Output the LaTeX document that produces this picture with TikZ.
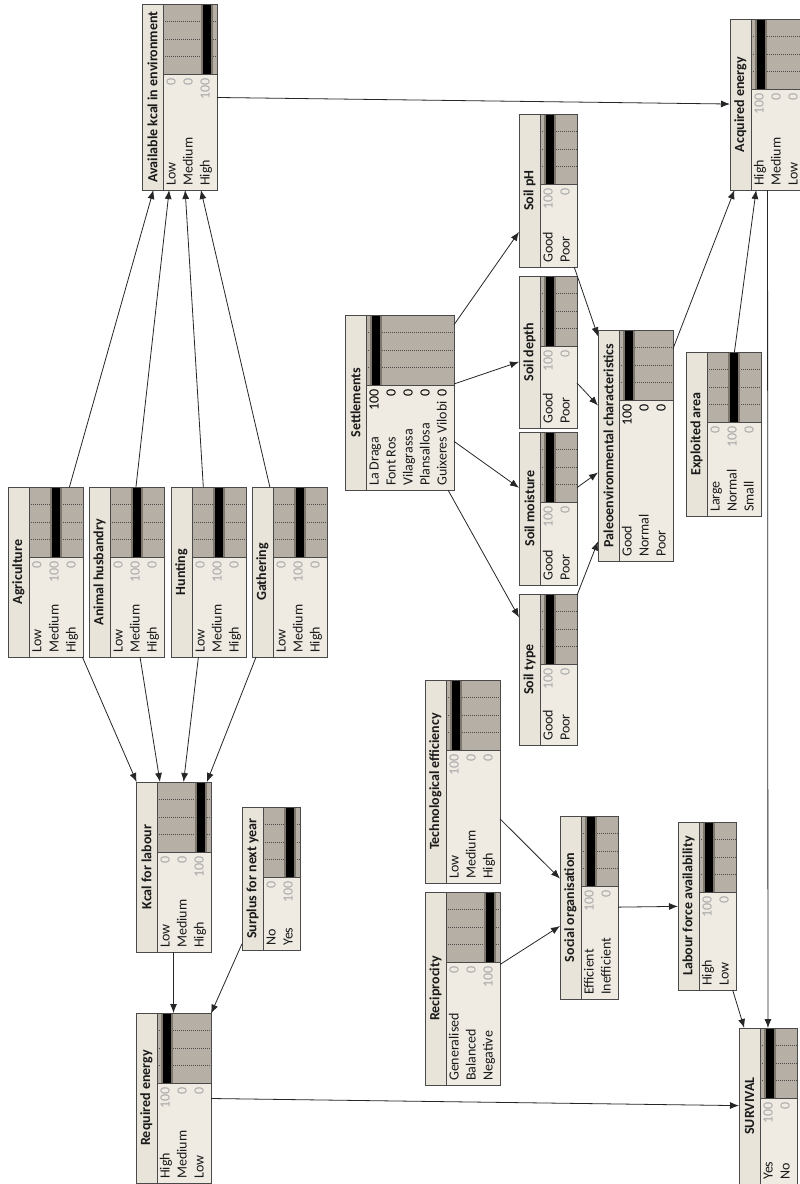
\documentclass[tikz,border=0pt]{standalone}
\usepackage{fontspec}
\setmainfont{Carlito}
\usetikzlibrary{arrows.meta}

\definecolor{bntitlefill}{HTML}{E8E4D9}
\definecolor{bnlabelfill}{HTML}{EFEBE3}
\definecolor{bnchartfill}{HTML}{B6AFA5}
\definecolor{bnedge}{HTML}{4A4A4A}
\definecolor{bnbarband}{HTML}{7E776E}
\definecolor{bnvalgrey}{HTML}{A8A8A8}

\tikzset{
  bnframe/.style={draw=bnedge, line width=0.9pt, fill=bntitlefill, inner sep=0pt, outer sep=0pt, rectangle},
  bnline/.style={draw=bnedge, line width=0.9pt},
  bngrid/.style={draw=black!70, line width=0.6pt, dash pattern=on 1pt off 1pt},
  bntitle/.style={font=\bfseries\fontsize{14}{17}\selectfont, text=black!90, inner sep=0pt},
  bnlabel/.style={font=\fontsize{14}{17}\selectfont, text=black!90, inner sep=0pt, text height=0.7em, text depth=0.2em},
  bnvalue/.style={font=\fontsize{14}{17}\selectfont, inner sep=0pt, text height=0.7em, text depth=0.2em},
  link/.style={draw=black!85, line width=0.8pt, -{Latex[length=9pt,width=7pt]}},
}

% Belief-network node: name, left x, top y, bottom y, number of states, title, states
% (states are label/value/percent/value colour); boxes are laid out rotated by 90 degrees
\newcommand\bnnode[7]{%
  \pgfmathsetmacro\bnB{#2+24+17*#5}%
  \pgfmathsetmacro\bnS{#3+70}%
  \pgfmathsetmacro\bnW{\bnB-#2}%
  \pgfmathsetmacro\bnH{#4-#3}%
  \pgfmathsetmacro\bnCX{(#2+\bnB)/2}%
  \pgfmathsetmacro\bnCY{-(#3+#4)/2}%
  \pgfmathsetmacro\bnTX{#2+21}%
  \node[bnframe, minimum width=\bnW pt, minimum height=\bnH pt] (#1) at (\bnCX,\bnCY) {};
  \fill[bnlabelfill] (\bnTX,-\bnS) rectangle (\bnB,-#4);
  \fill[bnchartfill] (\bnTX,-#3) rectangle (\bnB,-\bnS);
  \foreach \k in {1,2,3} {%
    \pgfmathsetmacro\gy{-(\bnS-17.5*\k)}%
    \draw[bngrid] (\bnTX,\gy) -- (\bnB,\gy);
  }
  \foreach \lab/\val/\pct/\vc [count=\i] in {#7} {%
    \pgfmathsetmacro\rx{#2+31+17*(\i-1)}%
    \pgfmathsetmacro\bartop{-(\bnS-0.7*\pct)}%
    \ifdim\pct pt>0pt
      \fill[bnbarband] ({\rx-6},-\bnS) rectangle ({\rx+6},\bartop);
      \fill[black] ({\rx-4},-\bnS) rectangle ({\rx+4},\bartop);
    \fi
    \node[bnlabel, rotate=90, anchor=west] at (\rx,{-(#4-4)}) {\lab};
    \node[bnvalue, rotate=90, anchor=east, text=\vc] at (\rx,{-(\bnS+4)}) {\val};
  }
  \draw[bnline] (\bnTX,-#3) -- (\bnTX,-#4);
  \draw[bnline] (\bnTX,-\bnS) -- (\bnB,-\bnS);
  \draw[bnline] (#1.south west) rectangle (#1.north east);
  \node[bntitle, rotate=90] at ({#2+10.5},\bnCY) {#6};
}

\begin{document}
\begin{tikzpicture}[x=1pt,y=1pt]
\useasboundingbox (0,0) rectangle (800,-1184);
\fill[white] (0,0) rectangle (800,-1184);

\bnnode{ak}{142}{4}{190}{3}{Available kcal in environment}{Low/0/0/bnvalgrey, Medium/0/0/bnvalgrey, High/100/100/bnvalgrey}
\bnnode{ae}{730}{19}{190}{3}{Acquired energy}{High/100/100/bnvalgrey, Medium/0/0/bnvalgrey, Low/0/0/bnvalgrey}
\bnnode{agri}{8}{487}{657}{3}{Agriculture}{Low/0/0/bnvalgrey, Medium/100/100/bnvalgrey, High/0/0/bnvalgrey}
\bnnode{anim}{89}{487}{657}{3}{Animal husbandry}{Low/0/0/bnvalgrey, Medium/100/100/bnvalgrey, High/0/0/bnvalgrey}
\bnnode{hunt}{171}{487}{657}{3}{Hunting}{Low/0/0/bnvalgrey, Medium/100/100/bnvalgrey, High/0/0/bnvalgrey}
\bnnode{gath}{252}{487}{657}{3}{Gathering}{Low/0/0/bnvalgrey, Medium/100/100/bnvalgrey, High/0/0/bnvalgrey}
\bnnode{kcal}{136}{782}{952}{3}{Kcal for labour}{Low/0/0/bnvalgrey, Medium/0/0/bnvalgrey, High/100/100/bnvalgrey}
\bnnode{surplus}{242}{807}{950}{2}{Surplus for next year}{No/0/0/bnvalgrey, Yes/100/100/bnvalgrey}
\bnnode{req}{136}{1013}{1183}{3}{Required energy}{High/100/100/bnvalgrey, Medium/0/0/bnvalgrey, Low/0/0/bnvalgrey}
\bnnode{surv}{739}{1028}{1184}{2}{SURVIVAL}{Yes/100/100/bnvalgrey, No/0/0/bnvalgrey}
\bnnode{sett}{345}{315}{490}{5}{Settlements}{La Draga/100/100/black, Font Ros/0/0/black, Vilagrassa/0/0/black, Plansallosa/0/0/black, Guixeres Vilobi/0/0/black}
\bnnode{ph}{519}{114}{267}{2}{Soil pH}{Good/100/100/bnvalgrey, Poor/0/0/bnvalgrey}
\bnnode{depth}{519}{276}{428}{2}{Soil depth}{Good/100/100/bnvalgrey, Poor/0/0/bnvalgrey}
\bnnode{moist}{519}{432}{585}{2}{Soil moisture}{Good/100/100/bnvalgrey, Poor/0/0/bnvalgrey}
\bnnode{stype}{519}{594}{745}{2}{Soil type}{Good/100/100/bnvalgrey, Poor/0/0/bnvalgrey}
\bnnode{paleo}{598}{330}{561}{3}{Paleoenvironmental characteristics}{Good/100/100/black, Normal/0/0/black, Poor/0/0/black}
\bnnode{area}{686}{352}{516}{3}{Exploited area}{Large/0/0/bnvalgrey, Normal/100/100/bnvalgrey, Small/0/0/bnvalgrey}
\bnnode{tech}{425}{680}{883}{3}{Technological efficiency}{Low/100/100/bnvalgrey, Medium/0/0/bnvalgrey, High/0/0/bnvalgrey}
\bnnode{recip}{425}{892}{1085}{3}{Reciprocity}{Generalised/0/0/bnvalgrey, Balanced/0/0/bnvalgrey, Negative/100/100/bnvalgrey}
\bnnode{social}{560}{816}{999}{2}{Social organisation}{Efficient/100/100/bnvalgrey, Inefficient/0/0/bnvalgrey}
\bnnode{labour}{678}{822}{990}{2}{Labour force availability}{High/100/100/bnvalgrey, Low/0/0/bnvalgrey}

% influences
\foreach \src in {agri,anim,hunt,gath} {
  \draw[link] (\src) -- (ak);
  \draw[link] (\src) -- (kcal);
}
\draw[link] (kcal) -- (req);
\draw[link] (surplus) -- (req);
\draw[link] (req) -- (surv);
\draw[link] (ak) -- (ae);
\draw[link] (ae) -- (surv);
\foreach \dst in {ph,depth,moist,stype} {
  \draw[link] (sett) -- (\dst);
  \draw[link] (\dst) -- (paleo);
}
\draw[link] (paleo) -- (ae);
\draw[link] (area) -- (ae);
\draw[link] (recip) -- (social);
\draw[link] (tech) -- (social);
\draw[link] (social) -- (labour);
\draw[link] (labour) -- (surv);
\end{tikzpicture}
\end{document}
